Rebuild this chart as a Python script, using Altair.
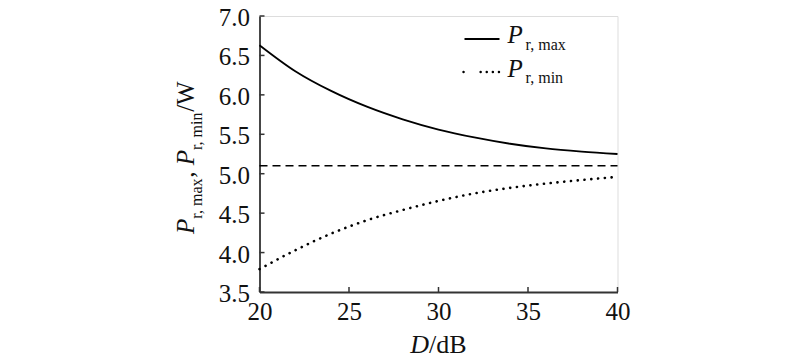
import altair as alt
import pandas as pd

# ---- data ----
D_VALUES = [20, 22, 24, 26, 28, 30, 32, 34, 36, 38, 40]
P_MAX = [6.63, 6.30, 6.05, 5.85, 5.69, 5.56, 5.46, 5.38, 5.32, 5.28, 5.25]
P_MIN = [3.79, 4.03, 4.24, 4.41, 4.54, 4.655, 4.75, 4.82, 4.875, 4.92, 4.96]
P_REF = 5.1
X_TICKS = [20, 25, 30, 35, 40]
Y_TICKS = [3.5, 4.0, 4.5, 5.0, 5.5, 6.0, 6.5, 7.0]

# ---- layout ----
W, H = 358, 276
FONT = "Liberation Serif"
MAIN = 25
SUB = 16

df = pd.DataFrame({"D": D_VALUES, "pmax": P_MAX, "pmin": P_MIN})
xscale = alt.Scale(domain=[20, 40], nice=False, zero=False)
yscale = alt.Scale(domain=[3.5, 7.0], nice=False, zero=False)

common_axis = dict(tickSize=0, title=None, grid=False, domainColor="#333", domainWidth=1.8,
                   labelFont=FONT, labelFontSize=MAIN, labelColor="#111",
                   labelOverlap=False, labelFlush=False, labelBound=False)
xaxis = alt.Axis(values=X_TICKS, format="d", labelPadding=7, **common_axis)
yaxis = alt.Axis(values=Y_TICKS, format=".1f", labelPadding=10, labelOffset=1.5, **common_axis)

base = alt.Chart(df)
pmax_line = base.mark_line(color="black", strokeWidth=1.8, interpolate="monotone").encode(
    x=alt.X("D:Q", scale=xscale, axis=xaxis),
    y=alt.Y("pmax:Q", scale=yscale, axis=yaxis),
)
pmin_line = base.mark_line(color="black", strokeWidth=2.6, strokeCap="round",
                           strokeDash=[0.1, 6.7], interpolate="monotone").encode(
    x=alt.X("D:Q", scale=xscale, axis=xaxis),
    y=alt.Y("pmin:Q", scale=yscale, axis=yaxis),
)
ref_df = pd.DataFrame({"x0": [D_VALUES[0]], "x1": [D_VALUES[-1]], "y": [P_REF]})
ref_line = alt.Chart(ref_df).mark_rule(color="black", strokeWidth=1.5, strokeDash=[8, 5]).encode(
    x=alt.X("x0:Q", scale=xscale, axis=xaxis), x2="x1:Q",
    y=alt.Y("y:Q", scale=yscale, axis=yaxis)
)

# inward ticks
xt = alt.Chart(pd.DataFrame({"t": X_TICKS})).mark_rule(color="#333", strokeWidth=1.5).encode(
    x=alt.X("t:Q", scale=xscale, axis=xaxis), y=alt.value(H), y2=alt.value(H - 5)
)
yt = alt.Chart(pd.DataFrame({"t": Y_TICKS})).mark_rule(color="#333", strokeWidth=1.5).encode(
    y=alt.Y("t:Q", scale=yscale, axis=yaxis), x=alt.value(0), x2=alt.value(5)
)


def txt(s, x, y, size, italic=False, angle=0, align="left"):
    kw = dict(font=FONT, fontSize=size, color="#111", align=align,
              baseline="alphabetic", angle=angle)
    if italic:
        kw["fontStyle"] = "italic"
    return alt.Chart(pd.DataFrame({"s": [s]})).mark_text(**kw).encode(
        text="s:N", x=alt.value(x), y=alt.value(y)
    )


# legend
leg_solid = alt.Chart(pd.DataFrame({"s": ["a"]})).mark_rule(color="black", strokeWidth=1.8).encode(
    x=alt.value(205), x2=alt.value(240), y=alt.value(23)
)
leg_dot = alt.Chart(pd.DataFrame({"s": ["b"]})).mark_rule(
    color="black", strokeWidth=2.4, strokeCap="round",
    strokeDash=[0.1, 17, 0.1, 6, 0.1, 6, 0.1, 6, 0.1, 40]).encode(
    x=alt.value(204), x2=alt.value(240), y=alt.value(56)
)
legend = [
    leg_solid, leg_dot,
    txt("P", 248, 27, MAIN, italic=True), txt("r, max", 266, 33.5, SUB),
    txt("P", 248, 61, MAIN, italic=True), txt("r, min", 266, 67, SUB),
]

# y title (rotated, reading upwards)
yb_main, yb_sub = -66, -58
y0 = 218
w_P = 0.611 * MAIN
w_max = 2.555 * SUB
w_comma = 0.5 * MAIN
w_min = 2.39 * SUB
ytitle = [
    txt("P", yb_main, y0, MAIN, italic=True, angle=270),
    txt("r, max", yb_sub, y0 - w_P, SUB, angle=270),
    txt(",", yb_main, y0 - w_P - w_max, MAIN, angle=270),
    txt("P", yb_main, y0 - w_P - w_max - w_comma, MAIN, italic=True, angle=270),
    txt("r, min", yb_sub, y0 - 2 * w_P - w_max - w_comma, SUB, angle=270),
    txt("/W", yb_main, y0 - 2 * w_P - w_max - w_comma - w_min, MAIN, angle=270),
]

# x title
TS = 26
x0 = W / 2 - (0.722 + 1.445) * TS / 2
xtitle = [
    txt("D", x0, 337, TS, italic=True),
    txt("/dB", x0 + 0.722 * TS, 337, TS),
]

chart = alt.layer(
    ref_line, pmax_line, pmin_line, xt, yt, *legend, *ytitle, *xtitle
).properties(
    width=W, height=H,
    autosize=alt.AutoSizeParams(type="none"),
    padding={"left": 251.5, "top": 8, "right": 174.5, "bottom": 68},
).configure_view(stroke=None).configure(background="white", font=FONT).configure_axis(
    labelFont=FONT, labelFontSize=MAIN
)

chart.save("out.html", embed_options={"renderer": "svg", "actions": False})
